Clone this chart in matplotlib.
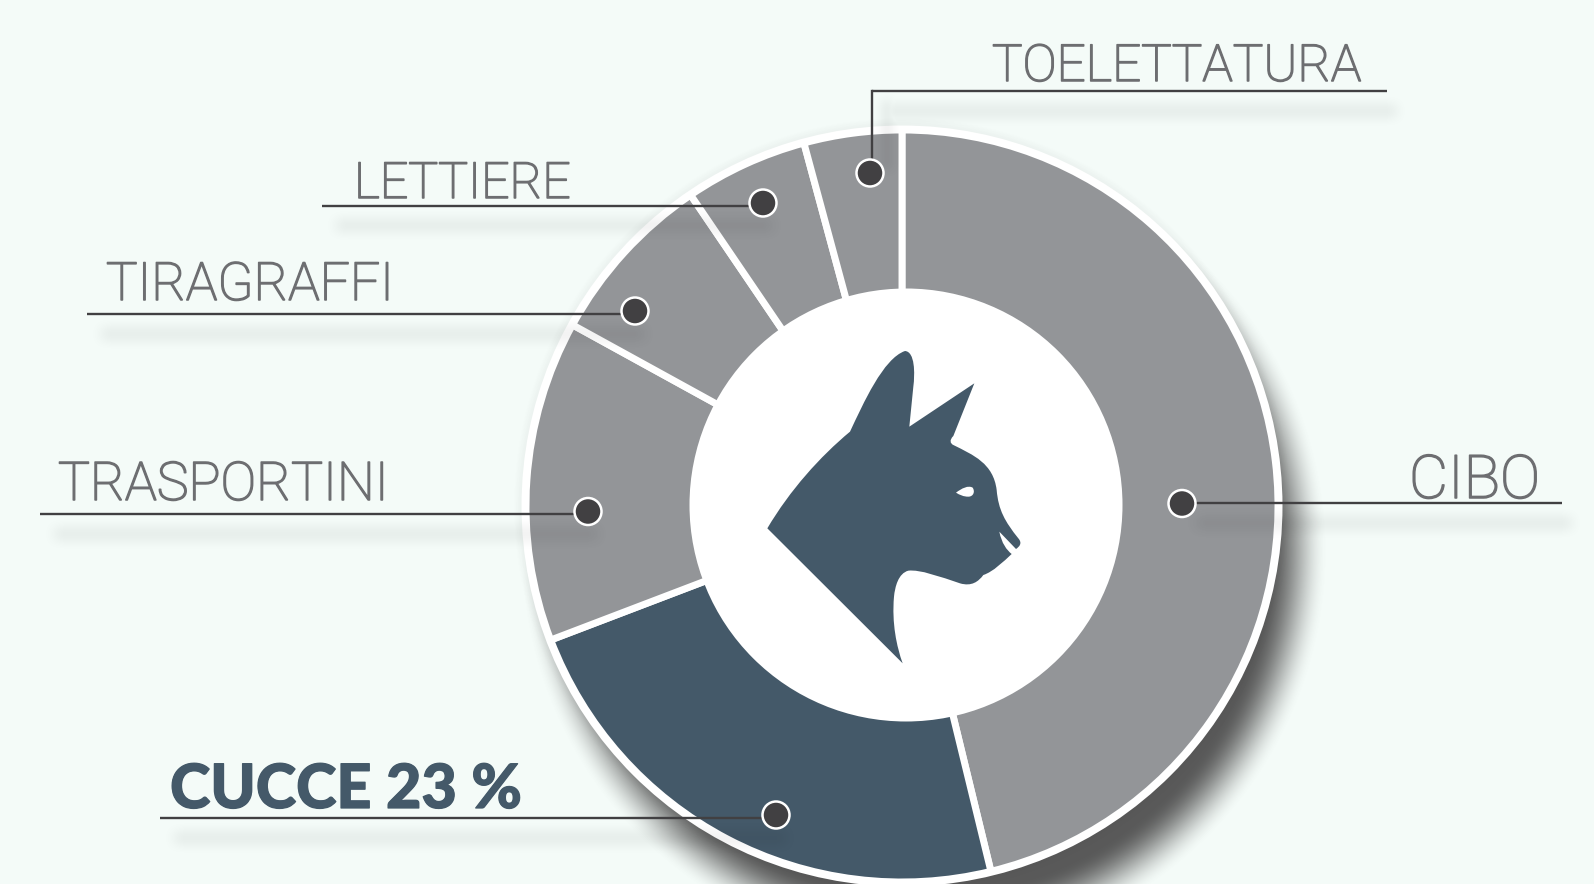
import numpy as np
import matplotlib
matplotlib.use("Agg")
import matplotlib.pyplot as plt
import matplotlib.patheffects as pe
from matplotlib.path import Path
from matplotlib.patches import Circle, PathPatch

W, H = 1594, 884

categories = ["CIBO", "CUCCE", "TRASPORTINI", "TIRAGRAFFI", "LETTIERE", "TOELETTATURA"]
shares = [46.2, 23.0, 13.8, 7.5, 5.3, 4.2]
label_texts = ["CIBO", "CUCCE 23 %", "TRASPORTINI", "TIRAGRAFFI", "LETTIERE", "TOELETTATURA"]

GRAY = "#939598"
BLUE = "#445969"
DARK = "#414042"
TEXT = "#6d6e71"
BG = "#f4fbf8"
wedge_colors = [GRAY, BLUE, GRAY, GRAY, GRAY, GRAY]

# pixel layout of the callouts: text left, baseline, text width, line y, line x start, line x end, dot x, dot y
callouts = {
    "CIBO": (1409, 498, 131, 503, 1182, 1562, 1182, 503.5),
    "CUCCE": (170, 808, 355, 818, 160, 776, 776, 815),
    "TRASPORTINI": (58, 500, 331, 514, 40, 588, 588, 511.5),
    "TIRAGRAFFI": (106, 300, 288, 314, 87, 635, 635, 311),
    "LETTIERE": (354, 198, 203, 205.5, 322, 763, 763, 203),
    "TOELETTATURA": (992, 81, 370, 91, 872, 1387, 870, 173),
}

# cat head traced in a 900x1020 box
cat = [
    ("M", (82, 595)),
    ("C", (150, 480), (240, 380), (330, 305)),
    ("C", (370, 220), (430, 85), (495, 63)),
    ("C", (525, 65), (525, 130), (520, 170)),
    ("L", (508, 290)),
    ("L", (703, 160)),
    ("L", (640, 318)),
    ("C", (628, 330), (630, 340), (640, 345)),
    ("C", (700, 375), (760, 400), (770, 480)),
    ("C", (775, 540), (795, 575), (835, 625)),
    ("C", (848, 640), (838, 650), (828, 657)),
    ("L", (778, 605)),
    ("C", (785, 640), (800, 660), (815, 672)),
    ("C", (790, 695), (760, 725), (730, 735)),
    ("C", (715, 755), (695, 770), (660, 760)),
    ("C", (600, 740), (540, 718), (505, 722)),
    ("C", (475, 730), (465, 770), (462, 800)),
    ("C", (455, 880), (470, 950), (488, 1000)),
    ("L", (82, 595)),
]
eye = [
    ("M", (648, 488)),
    ("C", (665, 475), (685, 465), (698, 473)),
    ("C", (706, 485), (700, 500), (685, 500)),
    ("C", (670, 500), (660, 495), (648, 488)),
]


def fy(y):
    return H - y


def cat_path(segs):
    verts, codes = [], []
    for s in segs:
        pts = [(740 + p[0] / 3, fy(330 + p[1] / 3)) for p in s[1:]]
        verts += pts
        if s[0] == "M":
            codes.append(Path.MOVETO)
        elif s[0] == "L":
            codes.append(Path.LINETO)
        else:
            codes += [Path.CURVE4] * 3
    return Path(verts, codes)


def smooth(t):
    t = np.clip(t, 0, 1)
    return t * t * (3 - 2 * t)


def soft_box(x0, x1, y0, y1, b):
    ax_ = smooth((X - x0 + b) / (2 * b)) * smooth((x1 - X + b) / (2 * b))
    ay_ = smooth((Y - y0 + b) / (2 * b)) * smooth((y1 - Y + b) / (2 * b))
    return ax_ * ay_


def rgba_layer(alpha, shade):
    img = np.zeros((H, W, 4))
    img[..., :3] = shade
    img[..., 3] = alpha
    return img


Y, X = np.mgrid[0:H, 0:W] + 0.5

fig = plt.figure(figsize=(W / 100, H / 100), dpi=100, facecolor=BG)
ax = fig.add_axes([0, 0, 1, 1])

# round shadow under the ring
d = np.hypot(X - 924, Y - 552)
shadow = 0.97 * smooth((404 - d) / 60)
ax.imshow(rgba_layer(shadow, 0.33), extent=(0, W, 0, H), origin="upper", zorder=1, aspect="auto")
# faint halo on the left side
d2 = np.hypot(X - 902, Y - 506)
ax.imshow(rgba_layer(0.05 * smooth((390 - d2) / 12), 0.2), extent=(0, W, 0, H), origin="upper", zorder=1, aspect="auto")

cx, cy = 902, fy(506)
ax.add_patch(Circle((cx, cy), 380.5, fc="white", ec="none", zorder=2))
ax.pie(shares, radius=376, center=(cx, cy), startangle=90, counterclock=False,
       colors=wedge_colors, wedgeprops=dict(edgecolor="white", linewidth=5, zorder=3))
ax.add_patch(Circle((906, fy(505)), 216.5, fc="white", ec="none", zorder=4))

ax.add_patch(PathPatch(cat_path(cat), fc=BLUE, ec="none", zorder=5))
ax.add_patch(PathPatch(cat_path(eye), fc="white", ec="none", zorder=6))

# soft shadows below the leader lines
glow = np.zeros((H, W))
for name in categories:
    tx, base, tw, ly, x0, x1, dx, dy = callouts[name]
    glow = np.maximum(glow, soft_box(x0 + 14, x1 + 10, ly + 14, ly + 26, 12))
glow = np.maximum(glow, soft_box(882, 892, 100, 170, 10))
ax.imshow(rgba_layer(glow * 0.07, 0.0), extent=(0, W, 0, H), origin="upper", zorder=7, aspect="auto")

ax.set_xlim(0, W)
ax.set_ylim(0, H)
ax.set_aspect("auto")
ax.set_axis_off()

renderer = fig.canvas.get_renderer()
for name, label in zip(categories, label_texts):
    tx, base, tw, ly, x0, x1, dx, dy = callouts[name]
    ax.plot([x0, x1], [fy(ly), fy(ly)], color=DARK, lw=1.7, solid_capstyle="butt", zorder=8)
    if name == "TOELETTATURA":
        ax.plot([x0, x0], [fy(ly), fy(dy)], color=DARK, lw=1.7, solid_capstyle="projecting", zorder=8)
    ax.add_patch(Circle((dx, fy(dy)), 13.5, fc=DARK, ec="white", lw=1.8, zorder=9))
    if name == "CUCCE":
        t = ax.text(tx, fy(base), label, family="Lato", weight="black", fontsize=44,
                    color=BLUE, va="baseline", ha="left", zorder=10)
        t.set_path_effects([pe.withStroke(linewidth=0.9, foreground=BLUE)])
    else:
        t = ax.text(tx, fy(base), label, family="Roboto", weight="light", fontsize=44,
                    color=TEXT, va="baseline", ha="left", zorder=10)
        # squeeze the size a little so the word keeps its width
        size = 44 * tw / t.get_window_extent(renderer).width
        t.set_fontsize(min(max(size, 36), 46))
        t.set_path_effects([pe.withStroke(linewidth=1.1, foreground=TEXT)])

fig.savefig("out.png", dpi=100, facecolor=BG)
